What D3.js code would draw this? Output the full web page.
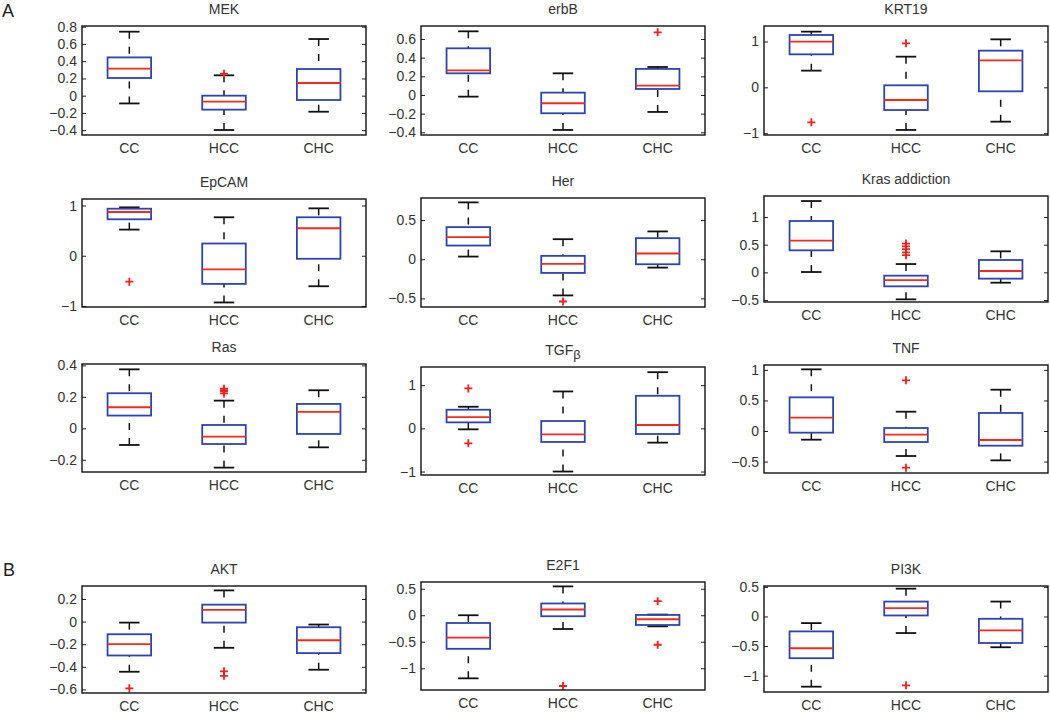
<!DOCTYPE html>
<html>
<head>
<meta charset="utf-8">
<script src="https://cdn.jsdelivr.net/npm/d3@7"></script>
<style>
  body { margin: 0; background: #fff; }
  svg { display: block; font-family: "Liberation Sans", Arial, sans-serif; }
</style>
</head>
<body>
<svg id="chart" width="1050" height="714"></svg>
<script>
const groups = ["CC", "HCC", "CHC"];

// each box: [lower whisker, q1, median, q3, upper whisker] for CC, HCC, CHC
const mekBoxes = [[-0.09, 0.205, 0.313, 0.444, 0.742], [-0.398, -0.162, -0.07, 0.0, 0.236], [-0.186, -0.05, 0.147, 0.309, 0.657]];
const mekOut = [[], [0.255], []];
const mekTicks = [-0.4, -0.2, 0, 0.2, 0.4, 0.6, 0.8];

const erbbBoxes = [[-0.018, 0.232, 0.264, 0.5, 0.682], [-0.375, -0.196, -0.089, 0.025, 0.232], [-0.182, 0.064, 0.1, 0.279, 0.3]];
const erbbOut = [[], [], [0.671]];
const erbbTicks = [-0.4, -0.2, 0, 0.2, 0.4, 0.6];

const krt19Boxes = [[0.364, 0.72, 0.996, 1.142, 1.215], [-0.93, -0.495, -0.276, 0.044, 0.669], [-0.749, -0.087, 0.589, 0.8, 1.047]];
const krt19Out = [[-0.764], [0.96], []];
const krt19Ticks = [-1, 0, 1];

const epcamBoxes = [[0.521, 0.726, 0.871, 0.937, 0.964], [-0.93, -0.56, -0.27, 0.244, 0.766], [-0.607, -0.06, 0.548, 0.766, 0.944]];
const epcamOut = [[-0.515], [], []];
const epcamTicks = [-1, 0, 1];

const herBoxes = [[0.034, 0.175, 0.282, 0.41, 0.726], [-0.462, -0.175, -0.06, 0.043, 0.256], [-0.107, -0.064, 0.073, 0.269, 0.355]];
const herOut = [[], [-0.54], []];
const herTicks = [-0.5, 0, 0.5];

const krasBoxes = [[0.006, 0.398, 0.572, 0.928, 1.289], [-0.488, -0.253, -0.139, -0.06, 0.15], [-0.187, -0.114, 0.024, 0.223, 0.38]];
const krasOut = [[], [0.31, 0.36, 0.42, 0.47, 0.52], []];
const krasTicks = [-0.5, 0, 0.5, 1];

const rasBoxes = [[-0.106, 0.081, 0.134, 0.223, 0.375], [-0.25, -0.1, -0.053, 0.021, 0.176], [-0.121, -0.036, 0.104, 0.155, 0.242]];
const rasOut = [[], [0.222, 0.235, 0.243, 0.252], []];
const rasTicks = [-0.2, 0, 0.2, 0.4];

const tgfbBoxes = [[-0.023, 0.138, 0.262, 0.431, 0.5], [-1.0, -0.315, -0.138, 0.169, 0.854], [-0.331, -0.131, 0.077, 0.754, 1.3]];
const tgfbOut = [[0.923, -0.346], [], []];
const tgfbTicks = [-1, 0, 1];

const tnfBoxes = [[-0.142, -0.027, 0.218, 0.551, 1.009], [-0.409, -0.18, -0.06, 0.049, 0.316], [-0.48, -0.24, -0.147, 0.295, 0.676]];
const tnfOut = [[], [0.829, -0.6], []];
const tnfTicks = [-0.5, 0, 0.5, 1];

const aktBoxes = [[-0.444, -0.3, -0.2, -0.112, -0.009], [-0.232, -0.009, 0.103, 0.15, 0.276], [-0.426, -0.279, -0.165, -0.05, -0.026]];
const aktOut = [[-0.591], [-0.44, -0.48], []];
const aktTicks = [-0.6, -0.4, -0.2, 0, 0.2];

const e2f1Boxes = [[-1.19, -0.633, -0.424, -0.146, 0], [-0.26, -0.019, 0.108, 0.222, 0.544], [-0.209, -0.184, -0.076, 0.006, 0.013]];
const e2f1Out = [[], [-1.335], [0.266, -0.557]];
const e2f1Ticks = [-1, -0.5, 0, 0.5];

const pi3kBoxes = [[-1.186, -0.705, -0.537, -0.252, -0.112], [-0.28, 0.017, 0.14, 0.252, 0.47], [-0.52, -0.448, -0.235, -0.039, 0.252]];
const pi3kOut = [[], [-1.164], []];
const pi3kTicks = [-1, -0.5, 0, 0.5];

const panels = [
  { title: "MEK", boxes: mekBoxes, out: mekOut, ticks: mekTicks, domain: [-0.456, 0.808] },
  { title: "erbB", boxes: erbbBoxes, out: erbbOut, ticks: erbbTicks, domain: [-0.429, 0.739] },
  { title: "KRT19", boxes: krt19Boxes, out: krt19Out, ticks: krt19Ticks, domain: [-1.04, 1.338] },
  { title: "EpCAM", boxes: epcamBoxes, out: epcamOut, ticks: epcamTicks, domain: [-1.02, 1.13] },
  { title: "Her", boxes: herBoxes, out: herOut, ticks: herTicks, domain: [-0.61, 0.782] },
  { title: "Kras addiction", boxes: krasBoxes, out: krasOut, ticks: krasTicks, domain: [-0.536, 1.38] },
  { title: "Ras", boxes: rasBoxes, out: rasOut, ticks: rasTicks, domain: [-0.278, 0.409] },
  { title: "TGF", sub: "β", boxes: tgfbBoxes, out: tgfbOut, ticks: tgfbTicks, domain: [-1.08, 1.42] },
  { title: "TNF", boxes: tnfBoxes, out: tnfOut, ticks: tnfTicks, domain: [-0.687, 1.08] },
  { title: "AKT", boxes: aktBoxes, out: aktOut, ticks: aktTicks, domain: [-0.632, 0.315] },
  { title: "E2F1", boxes: e2f1Boxes, out: e2f1Out, ticks: e2f1Ticks, domain: [-1.41, 0.627] },
  { title: "PI3K", boxes: pi3kBoxes, out: pi3kOut, ticks: pi3kTicks, domain: [-1.276, 0.515] }
];

// panel frames: [left, top, bottom]
const frames = [
  [82, 26, 135], [421, 26, 135], [764, 26, 135],
  [82, 199, 307], [421, 198, 307], [764, 196, 302],
  [82, 364, 472], [421, 367, 475], [764, 365, 473],
  [82, 586, 693], [421, 582, 690], [764, 586, 692]
];
const W = 284;

const svg = d3.select("#chart");
const fmt = v => String(+v.toFixed(2)).replace("-", "\u2212");

svg.append("text").attr("x", 2).attr("y", 17).attr("font-size", 18).attr("fill", "#222").text("A");
svg.append("text").attr("x", 3).attr("y", 576).attr("font-size", 18).attr("fill", "#222").text("B");

panels.forEach((p, i) => {
  const [x0, top, bottom] = frames[i];
  const h = bottom - top;
  const g = svg.append("g").attr("transform", `translate(${x0},${top})`);

  const x = d3.scaleBand().domain(groups).range([0, W]);
  const y = d3.scaleLinear().domain(p.domain).range([h, 0]);
  const bw = x.bandwidth() * 0.46;
  const cw = bw * 0.47;

  const left = g.append("g")
    .call(d3.axisLeft(y).tickValues(p.ticks).tickSize(-4).tickPadding(5).tickFormat(fmt));
  left.select(".domain").remove();
  left.selectAll("text").attr("font-size", 14).attr("fill", "#333").attr("font-family", null);
  left.selectAll("line").attr("stroke", "#222");

  const right = g.append("g").attr("transform", `translate(${W},0)`)
    .call(d3.axisRight(y).tickValues(p.ticks).tickSize(-4).tickFormat(""));
  right.select(".domain").remove();
  right.selectAll("line").attr("stroke", "#222");

  const bot = g.append("g").attr("transform", `translate(0,${h})`)
    .call(d3.axisBottom(x).tickSize(0).tickPadding(8));
  bot.select(".domain").remove();
  bot.selectAll("text").attr("font-size", 14).attr("fill", "#333").attr("font-family", null);

  const t = svg.append("text")
    .attr("x", x0 + W / 2).attr("y", top - 12)
    .attr("text-anchor", "middle").attr("font-size", 14).attr("fill", "#333")
    .text(p.title);
  if (p.sub) {
    t.append("tspan").attr("font-size", 13).attr("dy", 4).text(p.sub);
  }

  const bx = g.selectAll(".bx").data(p.boxes).enter().append("g")
    .attr("transform", (d, j) => `translate(${x(groups[j]) + x.bandwidth() / 2},0)`);

  // whiskers (dashed), drawn from the cap toward the box
  bx.append("line").attr("x1", 0).attr("x2", 0)
    .attr("y1", d => y(d[4])).attr("y2", d => y(d[3]))
    .attr("stroke", "#111").attr("stroke-width", 1.5).attr("stroke-dasharray", "7,8");
  bx.append("line").attr("x1", 0).attr("x2", 0)
    .attr("y1", d => y(d[0])).attr("y2", d => y(d[1]))
    .attr("stroke", "#111").attr("stroke-width", 1.5).attr("stroke-dasharray", "7,8");
  // caps
  bx.append("line").attr("x1", -cw / 2).attr("x2", cw / 2)
    .attr("y1", d => y(d[4])).attr("y2", d => y(d[4]))
    .attr("stroke", "#111").attr("stroke-width", 1.8);
  bx.append("line").attr("x1", -cw / 2).attr("x2", cw / 2)
    .attr("y1", d => y(d[0])).attr("y2", d => y(d[0]))
    .attr("stroke", "#111").attr("stroke-width", 1.8);
  // box
  bx.append("rect").attr("x", -bw / 2).attr("width", bw)
    .attr("y", d => y(d[3])).attr("height", d => y(d[1]) - y(d[3]))
    .attr("fill", "none").attr("stroke", "#2e44ad").attr("stroke-width", 1.8);
  // median
  bx.append("line").attr("x1", -bw / 2).attr("x2", bw / 2)
    .attr("y1", d => y(d[2])).attr("y2", d => y(d[2]))
    .attr("stroke", "#f32a1c").attr("stroke-width", 1.8);

  // outliers as red plus signs
  p.out.forEach((vals, j) => {
    const cx = x(groups[j]) + x.bandwidth() / 2;
    g.selectAll(null).data(vals).enter().append("path")
      .attr("d", v => `M${cx - 4},${y(v)}H${cx + 4}M${cx},${y(v) - 4}V${y(v) + 4}`)
      .attr("stroke", "#ee2020").attr("stroke-width", 1.8).attr("fill", "none");
  });

  g.append("rect").attr("width", W).attr("height", h)
    .attr("fill", "none").attr("stroke", "#111").attr("stroke-width", 1.4);
});
</script>
</body>
</html>
